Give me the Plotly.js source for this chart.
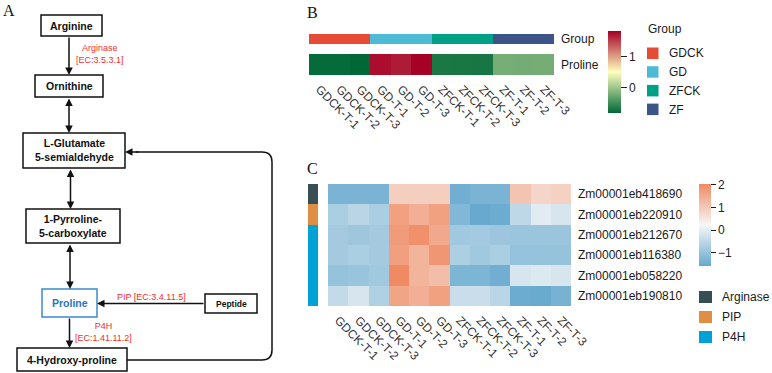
<!DOCTYPE html>
<html>
<head>
<meta charset="utf-8">
<script src="https://cdn.plot.ly/plotly-3.0.1.min.js"></script>
<style>html,body{margin:0;padding:0;background:#fff}</style>
</head>
<body>
<div id="chart" style="width:772px;height:373px"></div>
<script>
// ---- samples and groups ----
const samples = ['GDCK-T-1','GDCK-T-2','GDCK-T-3','GD-T-1','GD-T-2','GD-T-3',
                 'ZFCK-T-1','ZFCK-T-2','ZFCK-T-3','ZF-T-1','ZF-T-2','ZF-T-3'];
const sampleGroup = ['GDCK','GDCK','GDCK','GD','GD','GD','ZFCK','ZFCK','ZFCK','ZF','ZF','ZF'];
const groups = ['GDCK','GD','ZFCK','ZF'];
const groupColors = ['#E64B35','#4DBBD5','#00A087','#3C5488'];

// ---- proline content (row-scaled) ----
const prolineZ = [-0.79,-0.79,-0.82, 1.77,1.70,1.84, -0.68,-0.69,-0.70, -0.20,-0.22,-0.21];

// ---- gene expression (row-scaled) ----
const genes = ['Zm00001eb418690','Zm00001eb220910','Zm00001eb212670',
               'Zm00001eb116380','Zm00001eb058220','Zm00001eb190810'];
const geneEnzyme = ['Arginase','PIP','P4H','P4H','P4H','P4H'];
const enzymes = ['Arginase','PIP','P4H'];
const enzymeColors = ['#374E55','#DF8F44','#00A1D5'];
const expr418690 = [-1.33,-1.33,-1.33, 0.89,0.89,0.89, -1.45,-1.33,-1.33, 1.06,0.78,0.85];
const expr220910 = [-0.73,-0.54,-0.73, 1.66,1.41,1.66, -1.23,-1.57,-1.50, -0.49,-0.04,-0.17];
const expr212670 = [-0.80,-0.88,-0.80, 1.73,1.90,1.52, -0.86,-0.82,-0.90, -0.92,-0.92,-0.92];
const expr116380 = [-0.80,-0.73,-0.80, 1.68,1.33,1.82, -0.70,-0.86,-0.73, -1.00,-0.98,-0.98];
const expr058220 = [-0.98,-0.96,-0.86, 2.02,1.33,1.16, -1.30,-1.30,-1.45, -0.17,-0.10,-0.17];
const expr190810 = [-0.42,-0.17,-0.66, 1.57,1.41,1.66, -0.35,-0.35,-0.54, -1.50,-1.55,-1.37];
const geneExpr = [expr418690, expr220910, expr212670, expr116380, expr058220, expr190810];

// ---- helpers ----
const W = 772, H = 373;
const px = x => x / W;
const py = y => 1 - y / H;
const FONT = 'Liberation Sans, Arial, sans-serif';
const SERIF = 'Liberation Serif, Times New Roman, serif';

// stepped colorscale for categorical cells
function stepScale(colors) {
  const n = colors.length, s = [];
  colors.forEach((c, i) => { s.push([i / n, c]); s.push([(i + 1) / n, c]); });
  return s;
}

const flat = geneExpr.flat();
const exprMin = Math.min(...flat), exprMax = Math.max(...flat);
const proMin = Math.min(...prolineZ), proMax = Math.max(...prolineZ);

const traces = [
  // group annotation bar
  {
    type: 'heatmap', xaxis: 'x', yaxis: 'y',
    x: samples, y: ['Group'],
    z: [sampleGroup.map(g => groups.indexOf(g))],
    text: [sampleGroup], hoverinfo: 'x+text',
    colorscale: stepScale(groupColors), zmin: -0.5, zmax: groups.length - 0.5,
    showscale: false
  },
  // proline row
  {
    type: 'heatmap', xaxis: 'x2', yaxis: 'y2',
    x: samples, y: ['Proline'], z: [prolineZ],
    colorscale: [[0, '#006837'], [0.5, '#FFFFBF'], [1, '#A50026']],
    zmin: proMin, zmax: proMax,
    colorbar: {
      x: px(608), xanchor: 'left', xpad: 0,
      y: py(31), yanchor: 'top', ypad: 0,
      len: 82, lenmode: 'pixels', thickness: 13, outlinewidth: 0,
      tickvals: [0, 1], ticks: 'outside', ticklen: 6, tickcolor: '#222', tickwidth: 1,
      tickfont: { family: FONT, size: 12, color: '#222' }
    }
  },
  // enzyme annotation column
  {
    type: 'heatmap', xaxis: 'x3', yaxis: 'y3',
    x: ['Enzyme'], y: genes,
    z: geneEnzyme.map(e => [enzymes.indexOf(e)]),
    text: geneEnzyme.map(e => [e]), hoverinfo: 'y+text',
    colorscale: stepScale(enzymeColors), zmin: -0.5, zmax: enzymes.length - 0.5,
    showscale: false
  },
  // expression heatmap
  {
    type: 'heatmap', xaxis: 'x4', yaxis: 'y4',
    x: samples, y: genes, z: geneExpr,
    colorscale: [[0, '#67A9CF'], [0.5, '#F7F7F7'], [1, '#EF8A62']],
    zmin: exprMin, zmax: exprMax,
    colorbar: {
      x: px(699), xanchor: 'left', xpad: 0,
      y: py(184), yanchor: 'top', ypad: 0,
      len: 82, lenmode: 'pixels', thickness: 12, outlinewidth: 0,
      tickvals: [-1, 0, 1, 2], ticks: 'outside', ticklen: 5, tickcolor: '#222', tickwidth: 1,
      tickfont: { family: FONT, size: 12, color: '#222' }
    }
  }
];

const hidden = { showgrid: false, zeroline: false, showline: false, ticks: '', showticklabels: false, fixedrange: true };
const colLabels = {
  showgrid: false, zeroline: false, showline: false, ticks: '',
  tickangle: 45, tickfont: { family: FONT, size: 12, color: '#333' }, ticklabelstandoff: 4
};
const rowLabels = {
  showgrid: false, zeroline: false, showline: false, ticks: '', side: 'right',
  tickfont: { family: FONT, size: 12, color: '#1a1a1a' }, ticklabelstandoff: 6
};

const shapes = [], annotations = [];

// ---- pathway diagram ----
const boxes = [
  { t: '<b>Arginine</b>', x0: 41, y0: 15, x1: 102, y1: 36 },
  { t: '<b>Ornithine</b>', x0: 35, y0: 75, x1: 103, y1: 97 },
  { t: '<b>L-Glutamate<br>5-semialdehyde</b>', x0: 23, y0: 133, x1: 125, y1: 168 },
  { t: '<b>1-Pyrroline-<br>5-carboxylate</b>', x0: 26, y0: 209, x1: 120, y1: 243 },
  { t: '<b>Proline</b>', x0: 42, y0: 289, x1: 97, y1: 317, c: '#3A8AD0', tc: '#1F74C4' },
  { t: '<b>Peptide</b>', x0: 205, y0: 294, x1: 257, y1: 313, fs: 8.5 },
  { t: '<b>4-Hydroxy-proline</b>', x0: 17, y0: 348, x1: 127, y1: 371 }
];
boxes.forEach(b => {
  shapes.push({ type: 'rect', xref: 'paper', yref: 'paper',
    x0: px(b.x0), x1: px(b.x1), y0: py(b.y1), y1: py(b.y0),
    line: { color: b.c || '#111', width: 1.5 }, fillcolor: '#fff', layer: 'above' });
  annotations.push({ xref: 'paper', yref: 'paper', x: px((b.x0 + b.x1) / 2), y: py((b.y0 + b.y1) / 2),
    xanchor: 'center', yanchor: 'middle', showarrow: false, text: b.t,
    font: { family: FONT, size: b.fs || 10.5, color: b.tc || '#111' } });
});

function arrow(hx, hy, tx, ty, both) {
  const a = { xref: 'paper', yref: 'paper', x: px(hx), y: py(hy),
    axref: 'pixel', ayref: 'pixel', ax: tx - hx, ay: ty - hy,
    text: '', showarrow: true, arrowhead: 2, arrowsize: 1, arrowwidth: 1.5,
    arrowcolor: '#111', standoff: 0, startstandoff: 0 };
  if (both) { a.arrowside = 'end+start'; a.startarrowhead = 2; a.startarrowsize = 1; }
  annotations.push(a);
}
arrow(69, 75, 69, 36);
arrow(69, 133, 69, 97, true);
arrow(70.5, 209, 70.5, 168, true);
arrow(70, 289, 70, 243, true);
arrow(97, 303.5, 205, 303.5);
arrow(69.5, 348, 69.5, 317);

// recycling loop from 4-hydroxy-proline back to the semialdehyde
const r = 10;
shapes.push({ type: 'path', xref: 'paper', yref: 'paper',
  path: `M${px(127)},${py(360)} L${px(272 - r)},${py(360)} Q${px(272)},${py(360)} ${px(272)},${py(360 - r)} ` +
        `L${px(272)},${py(152 + r)} Q${px(272)},${py(152)} ${px(272 - r)},${py(152)} L${px(136)},${py(152)}`,
  line: { color: '#111', width: 1.5 } });
arrow(125, 152, 140, 152);

const red = { family: FONT, size: 9, color: '#F03030' };
[
  { t: 'Arginase<br>[EC:3.5.3.1]', x: 100, y: 54.5 },
  { t: 'PIP [EC:3.4.11.5]', x: 151, y: 297 },
  { t: 'P4H<br>[EC:1.41.11.2]', x: 103, y: 332 }
].forEach(l => annotations.push({ xref: 'paper', yref: 'paper', x: px(l.x), y: py(l.y),
  xanchor: 'center', yanchor: 'middle', showarrow: false, text: l.t, font: red }));

// panel letters
[['A', 9, 10], ['B', 312, 12], ['C', 312, 168]].forEach(([t, x, y]) =>
  annotations.push({ xref: 'paper', yref: 'paper', x: px(x), y: py(y), xanchor: 'center', yanchor: 'middle',
    showarrow: false, text: t, font: { family: SERIF, size: 16, color: '#111' } }));

// ---- legends ----
annotations.push({ xref: 'paper', yref: 'paper', x: px(646), y: py(29.5), xanchor: 'left', yanchor: 'middle',
  showarrow: false, text: 'Group', font: { family: FONT, size: 12, color: '#1a1a1a' } });
groups.forEach((g, i) => {
  const y0 = 47.5 + i * 18.7;
  shapes.push({ type: 'rect', xref: 'paper', yref: 'paper', x0: px(647), x1: px(658.5),
    y0: py(y0 + 11.5), y1: py(y0), fillcolor: groupColors[i], line: { width: 0 } });
  annotations.push({ xref: 'paper', yref: 'paper', x: px(667), y: py(y0 + 6), xanchor: 'left', yanchor: 'middle',
    showarrow: false, text: g, font: { family: FONT, size: 12, color: '#1a1a1a' } });
});
enzymes.forEach((e, i) => {
  const y0 = 291 + i * 20;
  shapes.push({ type: 'rect', xref: 'paper', yref: 'paper', x0: px(699), x1: px(712),
    y0: py(y0 + 12), y1: py(y0), fillcolor: enzymeColors[i], line: { width: 0 } });
  annotations.push({ xref: 'paper', yref: 'paper', x: px(720), y: py(y0 + 6), xanchor: 'left', yanchor: 'middle',
    showarrow: false, text: e, font: { family: FONT, size: 12, color: '#1a1a1a' } });
});

const layout = {
  width: W, height: H, autosize: false,
  margin: { l: 0, r: 0, t: 0, b: 0, pad: 0 },
  paper_bgcolor: '#fff', plot_bgcolor: '#fff',
  showlegend: false,
  font: { family: FONT, color: '#1a1a1a' },
  xaxis: Object.assign({}, hidden, { domain: [px(309), px(554)], anchor: 'y' }),
  yaxis: Object.assign({}, rowLabels, { domain: [py(44), py(34)], anchor: 'x' }),
  xaxis2: Object.assign({}, colLabels, { domain: [px(309), px(554)], anchor: 'y2' }),
  yaxis2: Object.assign({}, rowLabels, { domain: [py(75), py(54)], anchor: 'x2' }),
  xaxis3: Object.assign({}, hidden, { domain: [px(308), px(318)], anchor: 'y3' }),
  yaxis3: Object.assign({}, hidden, { domain: [py(306), py(184)], anchor: 'x3', autorange: 'reversed' }),
  xaxis4: Object.assign({}, colLabels, { domain: [px(328), px(571)], anchor: 'y4' }),
  yaxis4: Object.assign({}, rowLabels, { domain: [py(306), py(184)], anchor: 'x4', autorange: 'reversed' }),
  shapes: shapes,
  annotations: annotations
};

Plotly.newPlot('chart', traces, layout, { displayModeBar: false, staticPlot: true });
</script>
</body>
</html>
